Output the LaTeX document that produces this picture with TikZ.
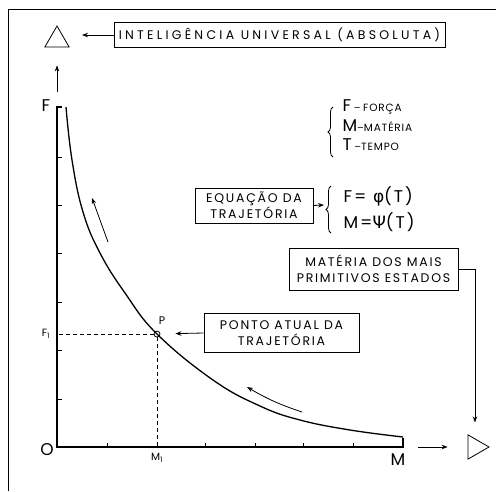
\documentclass[tikz,border=0pt]{standalone}
\usepackage{fontspec}
\setmainfont{Poppins}
\newfontfamily\grego{DejaVu Sans}
\usetikzlibrary{arrows.meta, shapes.geometric, positioning, decorations.pathreplacing}

\newcommand\rotulo{\fontsize{12.5}{16}\selectfont\addfontfeatures{LetterSpace=14}}
\newcommand\largo{\fontsize{12.5}{16}\selectfont\addfontfeatures{LetterSpace=26}}
\newcommand\letra{\fontsize{17}{18}\selectfont}
\newcommand\miuda{\fontsize{10.5}{12}\selectfont\addfontfeatures{LetterSpace=8}}

\begin{document}
\begin{tikzpicture}[x=1pt, y=-1pt, >={Stealth[length=6pt,width=4.5pt]},
  caixa/.style={draw, line width=0.7pt, align=center, font=\rotulo, inner sep=0pt},
  eixo/.style={line width=1.1pt},
  seta/.style={->, line width=0.8pt},
  simbolo/.style={draw, line width=0.8pt, regular polygon, regular polygon sides=3,
                  minimum size=28pt, inner sep=0pt},
  chave/.style={decorate, decoration={brace, amplitude=5pt}, line width=0.8pt}]

  \useasboundingbox (0,0) rectangle (496,491);

  % moldura
  \draw[line width=0.9pt] (8,491) -- (8,9) -- (496,9);

  % simbolos e caixas
  \node[simbolo] (absoluto) at (57,40) {};
  \node[simbolo, shape border rotate=-90] (primitivo) at (475,447) {};
  \node[caixa, font=\largo, minimum width=331pt, minimum height=25pt] (intel) at (279.5,35)
        {INTELIGÊNCIA UNIVERSAL (ABSOLUTA)};
  \node[caixa, minimum width=118pt, minimum height=35pt] (equacao) at (254,205.5)
        {EQUAÇÃO DA\\TRAJETÓRIA};
  \node[caixa, minimum width=169pt, minimum height=42pt] (materia) at (373.5,269)
        {MATÉRIA DOS MAIS\\PRIMITIVOS ESTADOS};
  \node[caixa, minimum width=155pt, minimum height=39pt] (ponto) at (281.5,333)
        {PONTO ATUAL DA\\TRAJETÓRIA};

  % eixos
  \coordinate (orig) at (57,447);
  \coordinate (topo) at (57,107);
  \coordinate (fim)  at (403,447);
  \draw[eixo] (62,107) -- (topo) -- (orig) -- (fim) -- ++(0,-9);
  \foreach \y in {157,205,253,302,350,399} \draw[line width=0.8pt] (57,\y) -- ++(5,0);
  \foreach \x in {107,205,255,303,353} \draw[line width=0.8pt] (\x,447) -- ++(0,-4);

  \node[font=\letra] (lF) at (46,106) {F};
  \node[font=\letra] (lO) at (47,450) {O};
  \node[font=\letra] (lM) at (398,460) {M};
  \node[font=\miuda] (lF1) at (46,334) {F\textsubscript{1}};
  \node[font=\miuda] (lM1) at (157,458) {M\textsubscript{1}};

  % trajetoria
  \node[draw, circle, fill=white, line width=0.8pt, minimum size=6pt, inner sep=0pt] (P) at (157,334) {};
  \node[font=\fontsize{11}{12}\selectfont] (lP) at (162,321) {P};
  \draw[dashed, dash pattern=on 4pt off 3pt, line width=0.8pt] (P) -- (P -| orig);
  \draw[dashed, dash pattern=on 4pt off 3pt, line width=0.8pt] (P) -- (P |- orig);
  \draw[line width=1.3pt] plot[smooth, tension=0.7] coordinates
        {(66,107) (72,160) (83,212) (100,253) (125,293) (157,334) (213,380)
         (260,406) (300,420) (350,430) (403,437)};

  % setas de sentido
  \coordinate (s1a) at (108,242); \coordinate (s1b) at (92,198);
  \coordinate (s2a) at (302,412); \coordinate (s2b) at (247,387);
  \draw[seta] (s1a) -- (s1b);
  \draw[seta] (s2a) to[bend left=6] (s2b);

  % ligacoes
  \draw[seta, shorten >=25pt] (intel.west) -- (intel.west -| absoluto);
  \draw[seta, shorten <=15pt, shorten >=18pt] (topo) -- (absoluto);
  \draw[seta, shorten <=15pt, shorten >=20pt] (fim) -- (primitivo);
  \draw[seta, shorten >=16pt] (materia.east) -| (primitivo);
  \draw[seta, shorten >=15pt] (ponto.west) -- (P);

  % legenda
  \draw[chave] (333,157) -- (333,107);
  \node[anchor=west] (leg1) at (339,107) {{\letra F} -- {\miuda FORÇA}};
  \node[anchor=west] (leg2) at (339,126) {{\letra M}--{\miuda MATÉRIA}};
  \node[anchor=west] (leg3) at (339,145) {{\letra T} --{\miuda TEMPO}};

  % equacao
  \coordinate (ch2) at (324,205);
  \draw[seta] (equacao.east) -- (ch2);
  \draw[chave] (331,233) -- (331,186);
  \node[anchor=west, font=\letra\addfontfeatures{LetterSpace=12}] (eq1) at (340,196) {F= {\grego φ}(T)};
  \node[anchor=west, font=\letra\addfontfeatures{LetterSpace=12}] (eq2) at (340,222) {M={\grego Ψ}(T)};
\end{tikzpicture}
\end{document}
